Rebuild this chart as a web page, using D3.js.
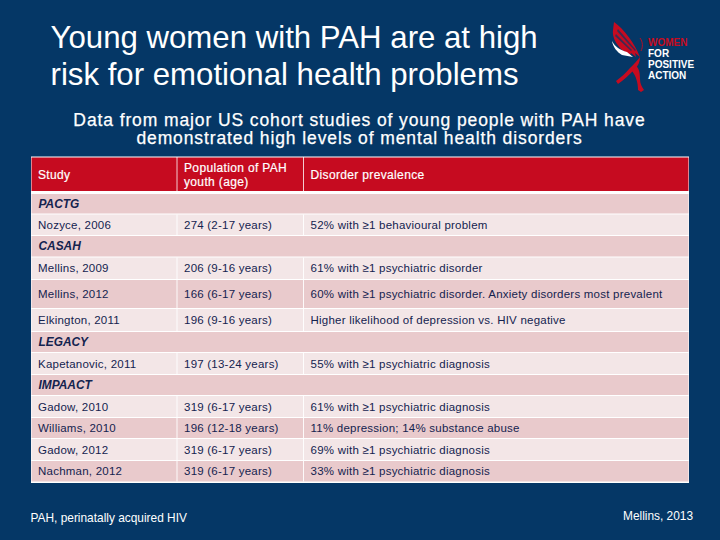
<!DOCTYPE html>
<html>
<head>
<meta charset="utf-8">
<script src="https://cdn.jsdelivr.net/npm/d3@7"></script>
<style>
  html, body { margin: 0; padding: 0; background: #053766; }
  svg { display: block; font-family: "Liberation Sans", Arial, sans-serif; }
</style>
</head>
<body>
<svg id="slide" width="720" height="540"></svg>
<script>
var titleLines = ["Young women with PAH are at high", "risk for emotional health problems"];
var subtitleLines = ["Data from major US cohort studies of young people with PAH have", "demonstrated high levels of mental health disorders"];
var headers = ["Study", ["Population of PAH", "youth (age)"], "Disorder prevalence"];
var logoWords = ["WOMEN", "FOR", "POSITIVE", "ACTION"];

var studies = ["PACTG", "Nozyce, 2006", "CASAH", "Mellins, 2009", "Mellins, 2012", "Elkington, 2011", "LEGACY",
  "Kapetanovic, 2011", "IMPAACT", "Gadow, 2010", "Williams, 2010", "Gadow, 2012", "Nachman, 2012"];
var populations = ["", "274 (2-17 years)", "", "206 (9-16 years)", "166 (6-17 years)", "196 (9-16 years)", "",
  "197 (13-24 years)", "", "319 (6-17 years)", "196 (12-18 years)", "319 (6-17 years)", "319 (6-17 years)"];
var prevalence = ["", "52% with ≥1 behavioural problem", "", "61% with ≥1 psychiatric disorder",
  "60% with ≥1 psychiatric disorder. Anxiety disorders most prevalent", "Higher likelihood of depression vs. HIV negative", "",
  "55% with ≥1 psychiatric diagnosis", "", "61% with ≥1 psychiatric diagnosis", "11% depression; 14% substance abuse",
  "69% with ≥1 psychiatric diagnosis", "33% with ≥1 psychiatric diagnosis"];
var cohortRows = ["PACTG", "CASAH", "LEGACY", "IMPAACT"];
var darkRows = ["Mellins, 2012", "Williams, 2010", "Nachman, 2012"];
var footnote = "PAH, perinatally acquired HIV";
var citation = "Mellins, 2013";

// row tops measured off the slide, rows are not all the same height
var rowEdges = [194, 214.5, 236, 257.5, 280, 309, 332, 353, 375, 396, 418, 439, 461, 482.5];
var rowScale = d3.scaleOrdinal().domain(studies).range(rowEdges);
var colEdges = [31, 177, 303.5, 689];
var cols = [studies, populations, prevalence];

var svg = d3.select("#slide");
var navy = "#14234f", red = "#c60b20";

svg.append("g").selectAll("text").data(titleLines).join("text")
  .attr("x", 50.5).attr("y", function(d, i) { return 48 + i * 37; })
  .attr("font-size", 31.2).attr("fill", "#fff").text(function(d) { return d; });

svg.append("g").selectAll("text").data(subtitleLines).join("text")
  .attr("x", 359.5).attr("y", function(d, i) { return 125.5 + i * 18; })
  .attr("text-anchor", "middle").attr("font-size", 17.5).attr("letter-spacing", 0.89)
  .attr("fill", "#fff").attr("stroke", "#fff").attr("stroke-width", 0.25)
  .text(function(d) { return d; });

// logo
var logo = svg.append("g");
logo.append("path").attr("fill", red)
  .attr("d", "M614 22 C624 29 635 44 640 57 L635 53 L636 57 L631 53 L630 55 L622 50 C616 44 612 37 613 30 Z");
logo.append("path").attr("fill", "#053766").attr("opacity", 0.7)
  .attr("d", "M616 34 L632 50 L631 51 L615 36 Z M618 29 L636 50 L635 51 L617 31 Z");
logo.append("path").attr("fill", "#fff")
  .attr("d", "M612 41 C615 47 620 50 627 52 L633 57 L622 55 C617 52 613 47 612 41 Z");
logo.append("path").attr("fill", red)
  .attr("d", "M640 57 C640 62 638 66 635 69 C629 75 624 80 618 84 L616 81 C621 77 626 73 630 68 C634 64 637 61 640 57 Z");
logo.append("path").attr("fill", red)
  .attr("d", "M636 66 C639 68 640 73 640 79 C640 84 642 87 644 90 L641 92 L638 90 C638 83 636 76 632 71 Z");
logo.append("path").attr("fill", "none").attr("stroke", red).attr("stroke-width", 0.9)
  .attr("d", "M640 38 C643 42 643 47 641 51");
logo.selectAll("text").data(logoWords).join("text")
  .attr("x", 648).attr("y", function(d, i) { return 46 + i * 11; })
  .attr("font-size", 10).attr("font-weight", "bold")
  .attr("fill", function(d, i) { return i == 0 ? red : "#fff"; })
  .text(function(d) { return d; });

// table background shows through the gaps as white rules
svg.append("rect").attr("x", 31).attr("y", 156.5).attr("width", 658).attr("height", 326.5).attr("fill", "#fff");

var header = svg.append("g");
header.append("rect").attr("x", 31.5).attr("y", 157.5).attr("width", 657).attr("height", 33.5).attr("fill", red);
header.selectAll("line").data(colEdges.slice(1, 3)).join("line")
  .attr("x1", function(d) { return d; }).attr("x2", function(d) { return d; })
  .attr("y1", 157).attr("y2", 191).attr("stroke", "#fff").attr("stroke-width", 0.8);
headers.forEach(function(h, c) {
  var lines = Array.isArray(h) ? h : [h];
  header.selectAll("text.h" + c).data(lines).join("text")
    .attr("class", "h" + c)
    .attr("x", colEdges[c] + 7).attr("y", function(d, i) {
      return lines.length > 1 ? 171.5 + i * 14 : 178.5;
    })
    .attr("font-size", 12).attr("letter-spacing", 0.35).attr("fill", "#fff").attr("stroke", "#fff").attr("stroke-width", 0.2)
    .text(function(d) { return d; });
});

var rows = svg.append("g").selectAll("g").data(studies).join("g");
rows.each(function(study, r) {
  var g = d3.select(this);
  var top = rowScale(study), bottom = rowEdges[r + 1];
  var isCohort = cohortRows.indexOf(study) >= 0;
  var fill = (isCohort || darkRows.indexOf(study) >= 0) ? "#e9cacc" : "#f3e6e7";
  g.append("rect").attr("x", 31.5).attr("y", top).attr("width", 657).attr("height", bottom - top - 1).attr("fill", fill);
  var mid = (top + bottom - 1) / 2 + 4;
  if (isCohort) {
    g.append("text").attr("x", 38.5).attr("y", mid).attr("font-size", 11.9)
      .attr("font-weight", "bold").attr("font-style", "italic").attr("fill", navy).text(study);
  } else {
    cols.forEach(function(col, c) {
      if (c > 0) {
        g.append("line").attr("x1", colEdges[c]).attr("x2", colEdges[c]).attr("y1", top).attr("y2", bottom - 1)
          .attr("stroke", "#fff").attr("stroke-width", 0.9);
      }
      g.append("text").attr("x", colEdges[c] + 7).attr("y", mid).attr("font-size", 11.5).attr("letter-spacing", 0.23)
        .attr("fill", navy).text(col[r]);
    });
  }
});

svg.append("text").attr("x", 30.5).attr("y", 522).attr("font-size", 11.9).attr("fill", "#fff").text(footnote);
svg.append("text").attr("x", 623).attr("y", 520).attr("font-size", 11.9).attr("fill", "#fff").text(citation);
</script>
</body>
</html>
